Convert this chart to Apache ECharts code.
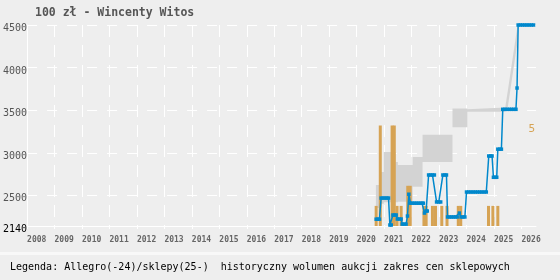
<!DOCTYPE html>
<html><head><meta charset="utf-8">
<script src="https://cdn.jsdelivr.net/npm/echarts@6/dist/echarts.min.js"></script>
<style>html,body{margin:0;padding:0;background:#eeeeee}#c{width:560px;height:280px}</style>
</head><body><div id="c"></div>
<script>
// ---- data ----
const titleText = '100 zł - Wincenty Witos';
const years = [2008,2009,2010,2011,2012,2013,2014,2015,2016,2017,2018,2019,2020,2021,2022,2023,2024,2025,2026];
const xMin = 2008, xMax = 2026.53;
const yMin = 2140, yMax = 4500;
// Allegro(-24)/sklepy(25-) price line
const priceT = [2020.71,2020.77,2020.83, 2020.89,2020.96,2021.03,2021.10,2021.16, 2021.21,2021.26,
  2021.32,2021.38,2021.44, 2021.48,2021.55,2021.62, 2021.66,2021.73,2021.80, 2021.85, 2021.90,
  2021.96,2022.03,2022.10,2022.17,2022.24,2022.31,2022.38,2022.43, 2022.47, 2022.53,2022.57,
  2022.62,2022.69,2022.76,2022.83, 2022.91,2022.99,2023.06, 2023.14,2023.21,2023.27,
  2023.31,2023.38,2023.45,2023.52,2023.59,2023.66, 2023.74, 2023.80,2023.87,2023.94,
  2024.00,2024.08,2024.16,2024.24,2024.32,2024.40,2024.48,2024.56,2024.64,2024.72,
  2024.81,2024.88,2024.93, 2024.98,2025.05,2025.10, 2025.14,2025.21,2025.27,
  2025.32,2025.40,2025.48,2025.56,2025.64,2025.72,2025.80, 2025.84,
  2025.88,2025.96,2026.04,2026.12,2026.20,2026.28,2026.36,2026.44];
const priceV = [2220,2220,2220, 2468,2468,2468,2468,2468, 2152,2152,
  2269,2269,2269, 2222,2222,2222, 2162,2162,2162, 2257, 2513,
  2408,2408,2408,2408,2408,2408,2408,2408, 2292, 2316,2316,
  2739,2739,2739,2739, 2422,2422,2422, 2739,2739,2739,
  2246,2246,2246,2246,2246,2246, 2292, 2246,2246,2246,
  2539,2539,2539,2539,2539,2539,2539,2539,2539,2539,
  2962,2962,2962, 2712,2712,2712, 3042,3042,3042,
  3510,3510,3510,3510,3510,3510,3510, 3760,
  4500,4500,4500,4500,4500,4500,4500,4500];
// historyczny wolumen aukcji
const volT = [2020.71,2020.86,2021.29,2021.37,2021.47,2021.62,2021.86,2021.95,2022.45,2022.53,2022.76,2022.87,2023.10,2023.29,2023.70,2023.79,2024.80,2024.96,2025.14];
const volV = [1,5,5,5,1,1,2,2,1,1,1,1,1,1,1,1,1,1,1];
// zakres cen sklepowych (min / max)
const bandT = [2020.70,2020.84,2020.84,2020.99,2020.99,2021.42,2021.42,2021.50,2021.50,2022.04,2022.04,2022.40,2022.40,2023.49,2023.49,2024.03,2024.03,2025.41,2025.50,2025.86,2025.88];
const bandLo = [2350,2350,2400,2400,2420,2420,2420,2420,2425,2425,2600,2600,2890,2890,3300,3300,3480,3480,3530,4310,4500];
const bandHi = [2620,2620,2775,2775,3010,3010,2890,2890,2855,2855,2950,2950,3210,3210,3520,3520,3510,3530,3720,4500,4500];
const volMax = 10;

// ---- build ----
const chart = echarts.init(document.getElementById('c'), null, {renderer:'canvas'});
const mono = 'DejaVu Sans Mono';
const blue = '#0088cc', orange = '#d6a354', gray = '#d3d3d3';
const zip = (a,b) => a.map((v,i)=>[v,b[i]]);
chart.setOption({
  animation:false,
  backgroundColor:'#eeeeee',
  title:{text:titleText,left:35,top:7,padding:0,textStyle:{fontFamily:mono,fontWeight:'bold',fontSize:11.5,color:'#555'}},
  grid:{left:25,right:24,top:25,bottom:54,containLabel:false},
  xAxis:{type:'value',min:xMin,max:xMax,interval:1,
    axisLine:{show:true,lineStyle:{color:'#fff',width:1}},
    axisTick:{show:true,length:3,lineStyle:{color:'#fff'},customValues:years},
    axisLabel:{fontFamily:mono,fontWeight:'bold',fontSize:8,color:'#666',align:'left',margin:10,
      customValues:years,
      formatter:v=>Number.isInteger(v)?String(v):''},
    splitLine:{show:true,showMaxLine:false,lineStyle:{color:'#fff',width:1,type:[12,8]}}},
  yAxis:[{type:'value',min:yMin,max:yMax,splitNumber:5,
    axisLine:{show:true,lineStyle:{color:'#fff',width:1}},
    axisTick:{show:false},
    axisLabel:{fontFamily:mono,fontSize:10,margin:0,verticalAlign:'top',lineHeight:7,
      formatter:v=>String(v),
      color:v=>(Number(v)===yMin?'#000':'#555')},
    splitLine:{show:true,lineStyle:{color:'#fff',width:1,type:[10,10]}}},
   {type:'value',min:0,max:volMax,interval:5,position:'right',
    axisLine:{show:false},axisTick:{show:false},splitLine:{show:false},
    axisLabel:{inside:true,margin:1,verticalAlign:'top',lineHeight:7,fontFamily:mono,fontSize:11,color:orange,
      formatter:v=>(v===5?'5':'')}}],
  series:[
    {type:'custom',data:[[bandT[0],bandLo[0]]],z:1,silent:true,clip:true,
      renderItem:(params,api)=>{
        const pts=[];
        for(let i=0;i<bandT.length;i++) pts.push(api.coord([bandT[i],bandHi[i]]));
        for(let i=bandT.length-1;i>=0;i--) pts.push(api.coord([bandT[i],bandLo[i]]));
        return {type:'polygon',shape:{points:pts},style:{fill:gray}};
      }},
    {type:'bar',yAxisIndex:1,data:zip(volT,volV),barWidth:3,itemStyle:{color:orange},z:2},
    {type:'line',data:zip(priceT,priceV),symbol:'rect',symbolSize:3.5,showAllSymbol:true,
      lineStyle:{color:blue,width:1.5},itemStyle:{color:blue},z:3}
  ],
  graphic:[
    {type:'rect',left:0,top:252,shape:{width:560,height:3},style:{fill:'#f8f8f8'},silent:true},
    {type:'text',left:10,top:262,style:{
      text:'{a|Legenda: }{b|Allegro(-24)/sklepy(25-)}{a|  }{c|historyczny wolumen aukcji}{a| }{d|zakres cen sklepowych}',
      rich:{a:{fontFamily:mono,fontSize:10,color:'#555'},b:{fontFamily:mono,fontSize:10,color:'#0a8ad0'},
            c:{fontFamily:mono,fontSize:10,color:'#d6a354'},d:{fontFamily:mono,fontSize:10,color:'#c8c8c8'}}}}
  ]
});
</script></body></html>
